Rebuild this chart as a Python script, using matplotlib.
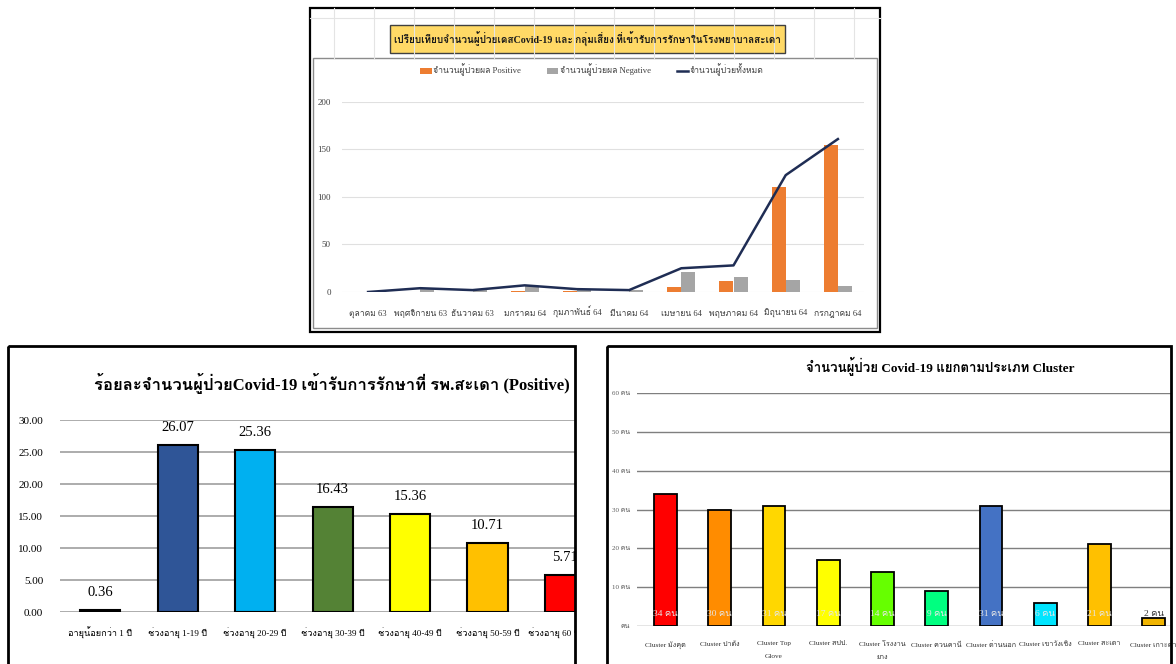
import matplotlib
matplotlib.use('Agg')
import matplotlib.pyplot as plt
from matplotlib import font_manager, ft2font
from matplotlib.patches import Rectangle
from matplotlib.lines import Line2D
from matplotlib.patches import Patch


def thai_family():
    # first installed family that has Thai glyphs
    for f in font_manager.fontManager.ttflist:
        try:
            if 0x0E01 in ft2font.FT2Font(f.fname).get_charmap():
                return f.name
        except Exception:
            pass
    return None


fams = ['Liberation Serif']
th = thai_family()
if th:
    fams.append(th)
fams.append('DejaVu Sans')
plt.rcParams['font.family'] = fams

# --- monthly admissions (top) ---
months = ['ตุลาคม 63', 'พฤศจิกายน 63', 'ธันวาคม 63', 'มกราคม 64', 'กุมภาพันธ์ 64',
          'มีนาคม 64', 'เมษายน 64', 'พฤษภาคม 64', 'มิถุนายน 64', 'กรกฎาคม 64']
positive = [0, 0, 0, 1, 1, 0, 5, 12, 110, 155]
negative = [0, 3, 2, 6, 2, 2, 21, 16, 13, 6]
total = [0, 4, 2, 7, 3, 2, 25, 28, 123, 161]

# --- percent of positive cases by age group (bottom left) ---
age_groups = ['อายุน้อยกว่า 1 ปี', 'ช่วงอายุ 1-19 ปี', 'ช่วงอายุ 20-29 ปี', 'ช่วงอายุ 30-39 ปี',
              'ช่วงอายุ 40-49 ปี', 'ช่วงอายุ 50-59 ปี', 'ช่วงอายุ 60 ปีขึ้นไป']
age_pct = [0.36, 26.07, 25.36, 16.43, 15.36, 10.71, 5.71]
age_colors = ['#1a1a2e', '#2f5597', '#00b0f0', '#548235', '#ffff00', '#ffc000', '#ff0000']

# --- patients by cluster (bottom right) ---
clusters = ['Cluster มังคุด', 'Cluster ปาดัง', 'Cluster Top\nGlove', 'Cluster สปป.',
            'Cluster โรงงาน\nยาง', 'Cluster ควนคานี', 'Cluster ด่านนอก', 'Cluster เขาวังเชิง',
            'Cluster สะเดา', 'Cluster เกาะค่า']
cluster_n = [34, 30, 31, 17, 14, 9, 31, 6, 21, 2]
cluster_colors = ['#ff0000', '#ff8c00', '#ffd700', '#ffff00', '#66ff00', '#00ff80',
                  '#4472c4', '#00e5ff', '#ffc000', '#f0b400']

W, H = 1176, 664
fig = plt.figure(figsize=(W / 100, H / 100), dpi=100)
fig.patch.set_facecolor('white')


def box(x0, y0, x1, y1):
    return [x0 / W, 1 - y1 / H, (x1 - x0) / W, (y1 - y0) / H]


def plain(ax):
    ax.set_facecolor('none')
    for s in ax.spines.values():
        s.set_visible(False)


# page layer: sheet cells, frames, titles
bg = fig.add_axes([0, 0, 1, 1], zorder=0)
bg.set_xlim(0, W)
bg.set_ylim(H, 0)
bg.axis('off')
for x in range(334, 880, 40):
    bg.plot([x, x], [8, 58], color='#e4e4e4', lw=0.8)
bg.plot([310, 880], [18, 18], color='#e4e4e4', lw=0.8)
bg.add_patch(Rectangle((313, 58), 564, 270, facecolor='white', edgecolor='#8c8c8c', lw=1))
bg.add_patch(Rectangle((310, 8), 570, 324, facecolor='none', edgecolor='black', lw=1.6))
bg.add_patch(Rectangle((390, 25), 395, 28, facecolor='#ffd966', edgecolor='#404040', lw=1))
bg.text(587.5, 39, 'เปรียบเทียบจำนวนผู้ป่วยเคสCovid-19 และ กลุ่มเสี่ยง ที่เข้ารับการรักษาในโรงพยาบาลสะเดา',
        ha='center', va='center', fontsize=7.2, fontweight='bold', color='#1a1a1a')
bg.text(94, 384, 'ร้อยละจำนวนผู้ป่วยCovid-19 เข้ารับการรักษาที่ รพ.สะเดา (Positive)',
        ha='left', va='center', fontsize=12, fontweight='bold')
bg.text(940, 366, 'จำนวนผู้ป่วย Covid-19 แยกตามประเภท Cluster',
        ha='center', va='center', fontsize=9.5, fontweight='bold')

# top chart
ax1 = fig.add_axes(box(342, 102, 864, 292), zorder=2)
xs = range(len(months))
bw = 0.27
ax1.bar([i - bw / 2 for i in xs], positive, bw, color='#ed7d31', zorder=3)
ax1.bar([i + bw / 2 for i in xs], negative, bw, color='#a5a5a5', zorder=3)
ax1.plot(list(xs), total, color='#1f2d54', lw=1.8, zorder=4)
ax1.set_xlim(-0.5, len(months) - 0.5)
ax1.set_ylim(0, 200)
ax1.set_yticks([0, 50, 100, 150, 200])
ax1.set_xticks(list(xs))
ax1.set_xticklabels(months, va='baseline')
ax1.tick_params(length=0, labelsize=6.2, colors='#404040')
ax1.tick_params(axis='x', pad=17)
ax1.tick_params(axis='y', pad=8, labelsize=6.5)
ax1.grid(axis='y', color='#e0e0e0', lw=0.8, zorder=0)
plain(ax1)
handles = [Patch(facecolor='#ed7d31'), Patch(facecolor='#a5a5a5'),
           Line2D([], [], color='#1f2d54', lw=1.8)]
fig.legend(handles, ['จำนวนผู้ป่วยผล Positive', 'จำนวนผู้ป่วยผล Negative', 'จำนวนผู้ป่วยทั้งหมด'],
           loc='center', bbox_to_anchor=(592 / W, 1 - 70 / H), ncol=3, frameon=False,
           fontsize=6.2, handlelength=1.3, handletextpad=0.2, columnspacing=3,
           labelcolor='#404040')

# bottom left chart
ax2 = fig.add_axes(box(60, 420, 575, 612), zorder=2)
ax2.bar(range(len(age_groups)), age_pct, 0.52, color=age_colors, edgecolor='black',
        lw=1.5, zorder=3)
for i, v in enumerate(age_pct):
    ax2.annotate(f'{v:.2f}', (i, v), xytext=(0, 8), textcoords='offset points',
                 ha='center', va='bottom', fontsize=10.5)
ax2.set_xlim(-0.52, (575 - 100) / 77.5)
ax2.set_ylim(0, 30)
ax2.set_yticks(range(0, 31, 5))
ax2.set_yticklabels([f'{t:.2f}' for t in range(0, 31, 5)])
ax2.set_xticks(range(len(age_groups)))
ax2.set_xticklabels(age_groups, va='baseline')
ax2.tick_params(length=0, labelsize=6.6)
ax2.tick_params(axis='x', pad=18)
ax2.tick_params(axis='y', pad=12, labelsize=8)
ax2.grid(axis='y', color='#a6a6a6', lw=1.3, zorder=0)
plain(ax2)

# bottom right chart
ax3 = fig.add_axes(box(637, 393, 1171, 626), zorder=2)
ax3.bar(range(len(clusters)), cluster_n, 0.42, color=cluster_colors, edgecolor='black',
        lw=1.3, zorder=3)
for i, v in enumerate(cluster_n):
    ax3.text(i, 3, f'{v} คน', ha='center', va='center', fontsize=6.8,
             color='#e6e6e6' if v > 4 else '#333333', zorder=4)
ax3.set_xlim(-0.525, (1171 - 665.5) / 54.25)
ax3.set_ylim(0, 60)
ax3.set_yticks(range(0, 61, 10))
ax3.set_yticklabels(['คน'] + [f'{t} คน' for t in range(10, 61, 10)])
ax3.set_xticks(range(len(clusters)))
ax3.set_xticklabels(clusters, linespacing=2.9)
ax3.tick_params(length=0, labelsize=5.2, colors='#333333')
ax3.tick_params(axis='x', pad=11)
ax3.tick_params(axis='y', pad=5, labelsize=5, colors='#595959')
ax3.grid(axis='y', color='#7f7f7f', lw=1, zorder=0)
plain(ax3)

# cover layer: clip the left panel at its border and draw the panel frames
top = fig.add_axes([0, 0, 1, 1], zorder=5)
top.set_xlim(0, W)
top.set_ylim(H, 0)
top.axis('off')
top.add_patch(Rectangle((576, 340), 30, 330, facecolor='white', edgecolor='none'))
top.add_patch(Rectangle((8, 346), 567, 330, facecolor='none', edgecolor='black', lw=2))
top.add_patch(Rectangle((607, 346), 564, 330, facecolor='none', edgecolor='black', lw=2))

fig.savefig('out.png', dpi=100)
